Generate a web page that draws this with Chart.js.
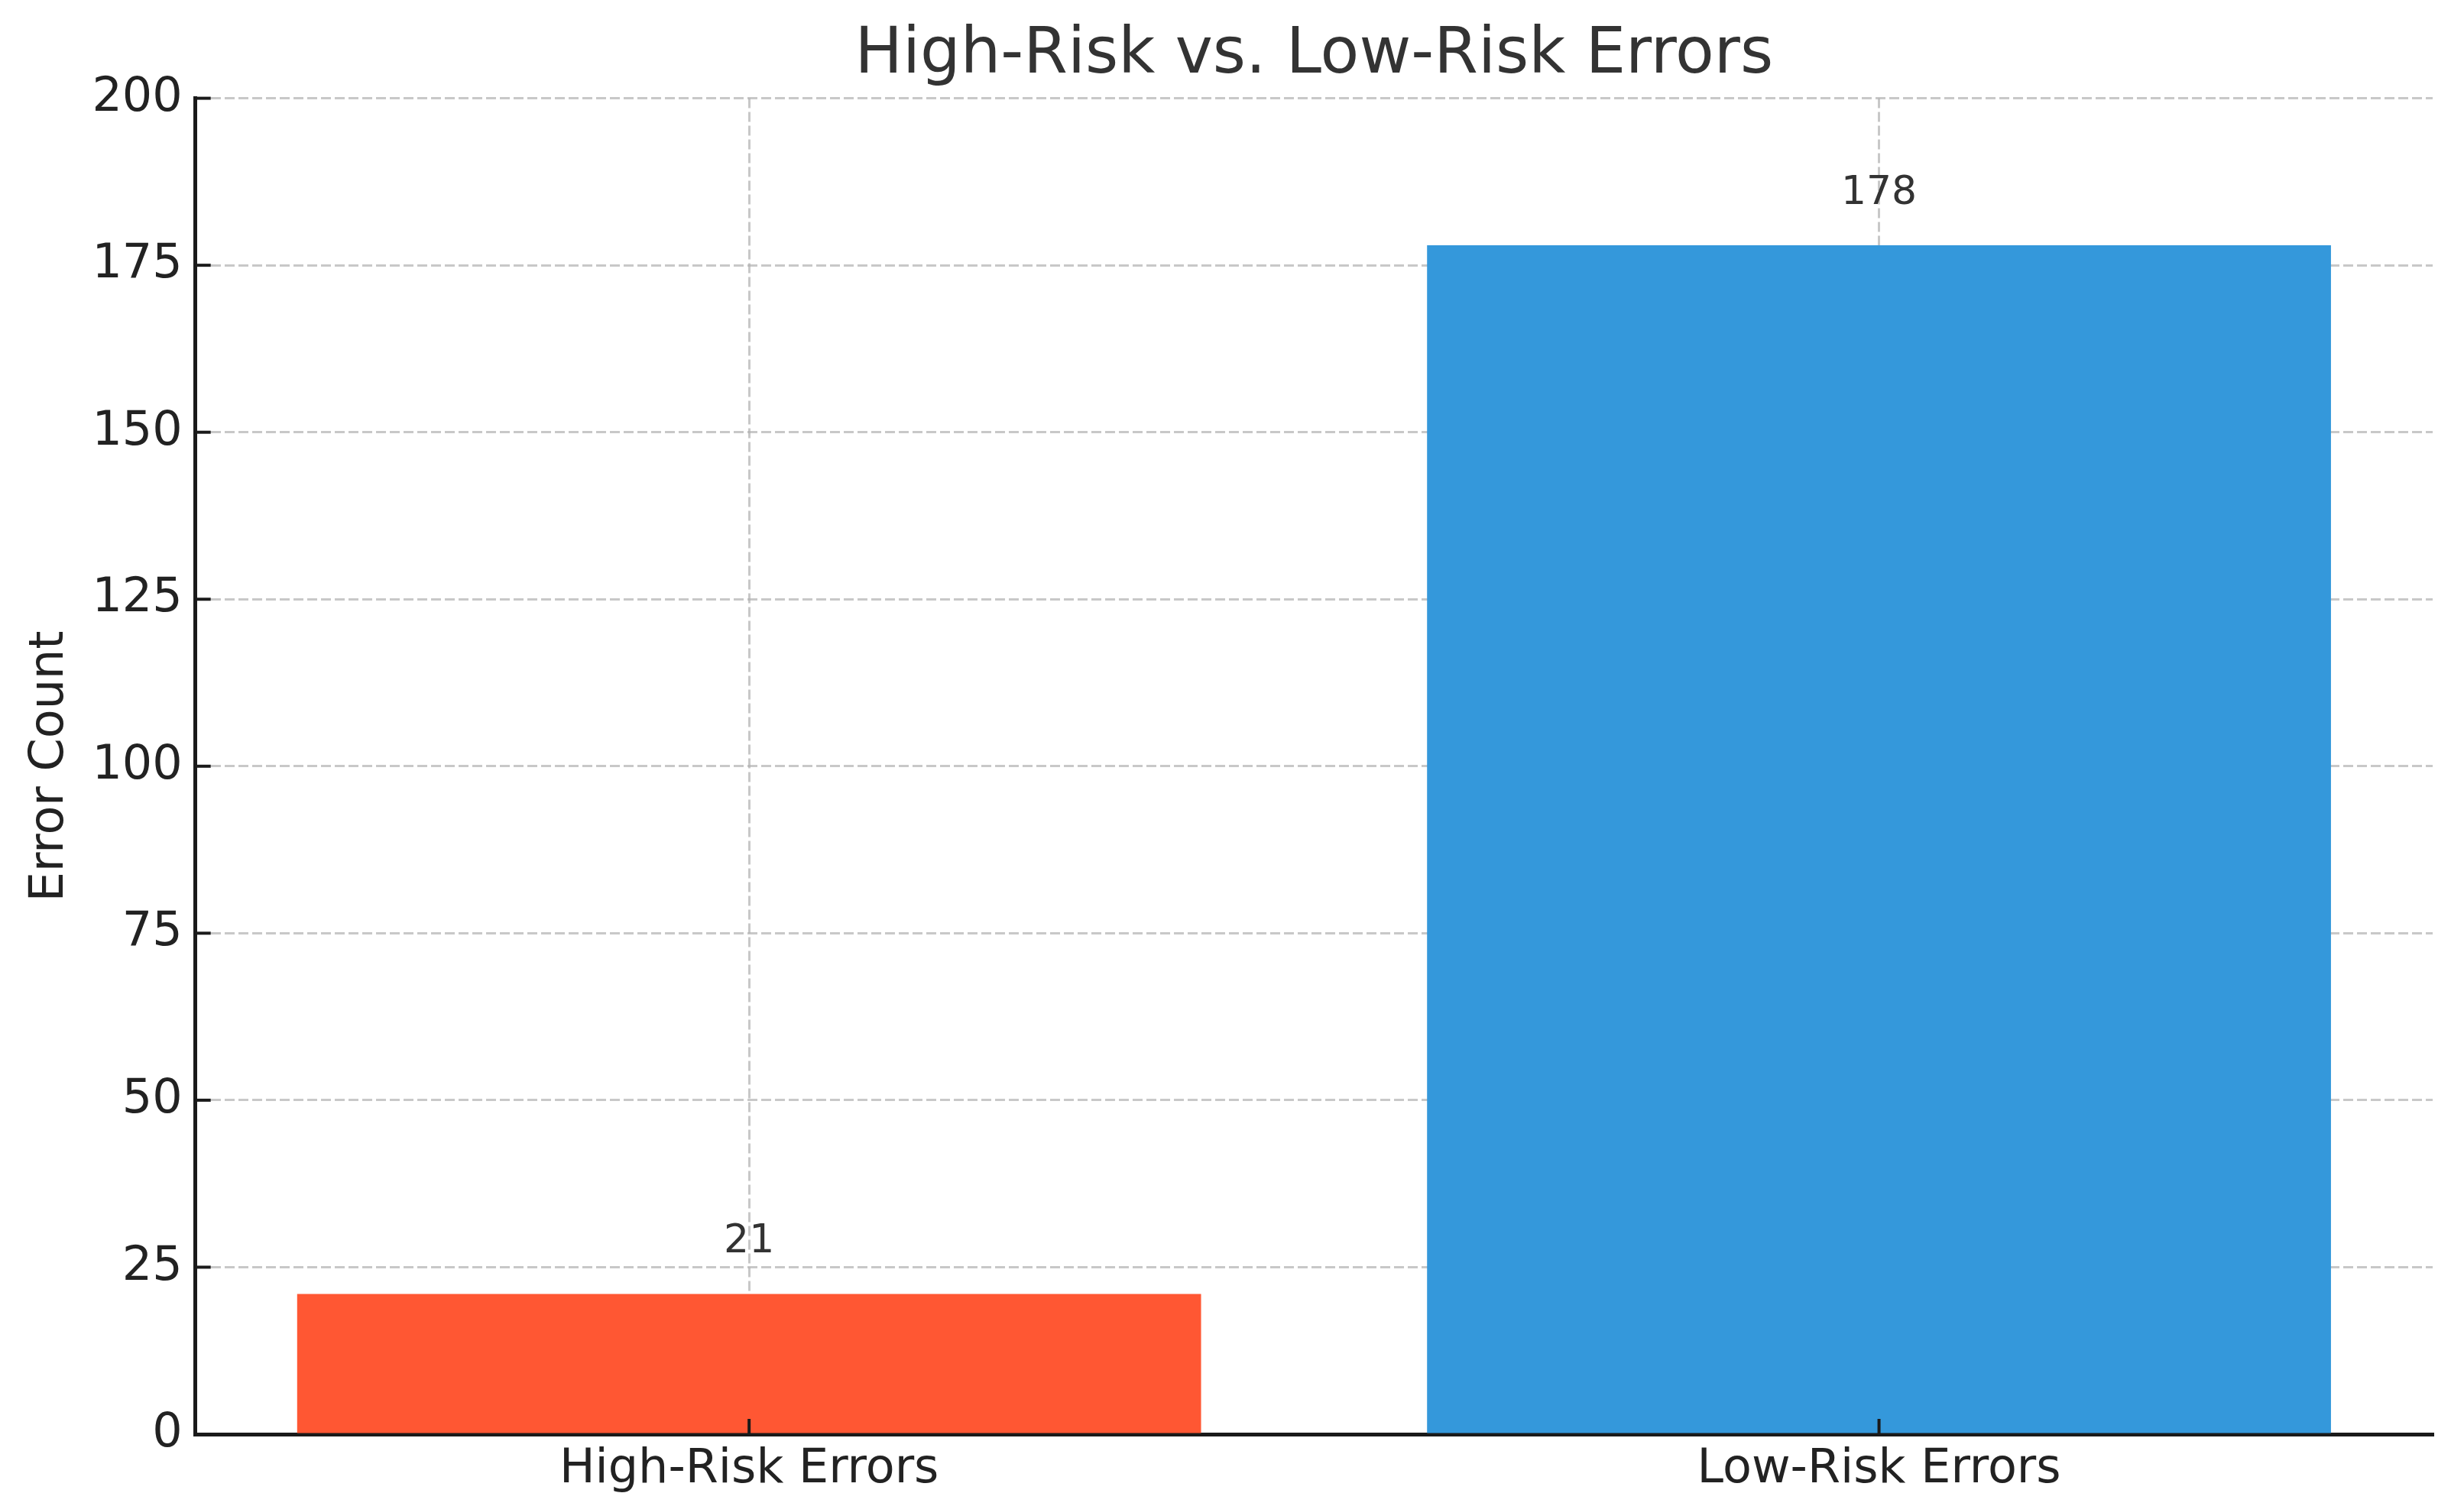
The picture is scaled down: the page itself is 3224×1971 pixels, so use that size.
<!DOCTYPE html>
<html>
<head>
<meta charset="utf-8">
<script src="https://cdn.jsdelivr.net/npm/chart.js@4.4.1/dist/chart.umd.min.js"></script>
<style>
  html, body { margin: 0; padding: 0; background: #fff; }
  #chart { display: block; }
</style>
</head>
<body>
<canvas id="chart" width="3224" height="1971"></canvas>
<script>
// chart data
const categories = ["High-Risk Errors", "Low-Risk Errors"];
const errorCounts = [21, 178];
const barColors = ["#FF5733", "#3498DB"];
const yTicks = [0, 25, 50, 75, 100, 125, 150, 175, 200];

const FONT = "'DejaVu Sans', sans-serif";
const gridColor = "rgba(176,176,176,0.7)";
const axisColor = "#1a1a1a";

// ticks pointing into the plot, plus value labels above bars
const extrasPlugin = {
  id: "extras",
  afterDraw(chart) {
    const ctx = chart.ctx;
    const xs = chart.scales.x;
    const ys = chart.scales.y;
    const area = chart.chartArea;
    ctx.save();
    ctx.strokeStyle = axisColor;
    ctx.lineWidth = 4;
    yTicks.forEach((v) => {
      const y = ys.getPixelForValue(v);
      ctx.beginPath();
      ctx.moveTo(area.left, y);
      ctx.lineTo(area.left + 20, y);
      ctx.stroke();
    });
    categories.forEach((c, i) => {
      const x = xs.getPixelForValue(i);
      ctx.beginPath();
      ctx.moveTo(x, area.bottom);
      ctx.lineTo(x, area.bottom - 20);
      ctx.stroke();
    });

    // value labels
    const meta = chart.getDatasetMeta(0);
    ctx.fillStyle = "#333";
    ctx.font = "52px " + FONT;
    ctx.textAlign = "center";
    ctx.textBaseline = "alphabetic";
    meta.data.forEach((bar, i) => {
      ctx.fillText(String(errorCounts[i]), bar.x, bar.y - 54);
    });
    ctx.restore();
  }
};

new Chart(document.getElementById("chart"), {
  type: "bar",
  data: {
    datasets: [{
      data: errorCounts.map((v, i) => ({ x: i, y: v })),
      backgroundColor: barColors,
      borderWidth: 0,
      barPercentage: 0.8,
      categoryPercentage: 1.0,
    }],
  },
  options: {
    responsive: false,
    animation: false,
    devicePixelRatio: 1,
    layout: { padding: { top: 0, right: 41, bottom: 0, left: 0 } },
    plugins: {
      legend: { display: false },
      tooltip: { enabled: false },
      title: {
        display: true,
        text: "High-Risk vs. Low-Risk Errors",
        color: "#333",
        fullSize: false,
        font: { family: FONT, size: 83, weight: "normal" },
        padding: { top: 24, bottom: 5 },
      },
    },
    scales: {
      x: {
        type: "linear",
        min: -0.49,
        max: 1.49,
        offset: false,
        z: 1,
        afterBuildTicks: (scale) => {
          scale.ticks = categories.map((c, i) => ({ value: i }));
        },
        ticks: {
          color: "#222",
          font: { family: FONT, size: 62, lineHeight: 1.0 },
          padding: 16,
          autoSkip: false,
          maxRotation: 0,
          callback: (v) => categories[v],
        },
        grid: { color: gridColor, lineWidth: 3, drawTicks: false, offset: false },
        border: { display: true, color: axisColor, width: 5, dash: [13, 5] },
      },
      y: {
        min: 0,
        max: 200,
        z: 1,
        afterBuildTicks: (scale) => {
          scale.ticks = yTicks.map((v) => ({ value: v }));
        },
        ticks: {
          color: "#222",
          font: { family: FONT, size: 62 },
          padding: 17,
        },
        grid: { color: gridColor, lineWidth: 3, drawTicks: false },
        border: { display: true, color: axisColor, width: 5, dash: [13, 5] },
        title: {
          display: true,
          text: "Error Count",
          color: "#222",
          font: { family: FONT, size: 62 },
          padding: { top: 29, bottom: 0 },
        },
      },
    },
  },
  plugins: [extrasPlugin],
});
</script>
</body>
</html>
